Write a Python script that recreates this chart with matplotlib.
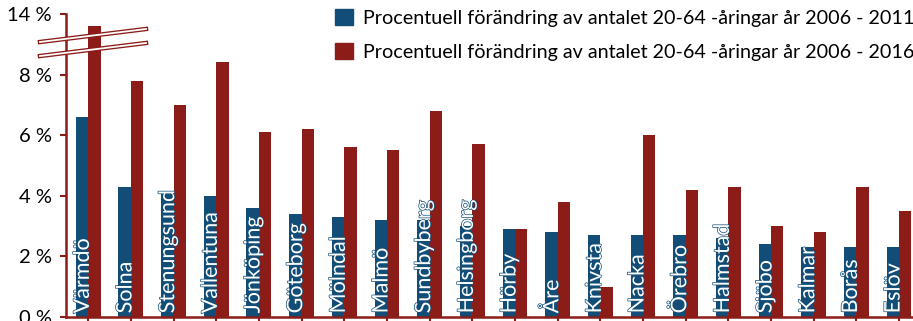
import numpy as np
import matplotlib
matplotlib.use("Agg")
from matplotlib import pyplot as plt
from matplotlib.lines import Line2D
from matplotlib.patches import Patch
import matplotlib.patheffects as pe

plt.rcParams['font.family'] = ['Lato', 'DejaVu Sans']

# data (percent)
kommuner = ["Värmdö", "Solna", "Stenungsund", "Vallentuna", "Jönköping", "Göteborg",
            "Mölndal", "Malmö", "Sundbyberg", "Helsingborg", "Hörby", "Åre", "Knivsta",
            "Nacka", "Örebro", "Halmstad", "Sjöbo", "Kalmar", "Borås", "Eslöv"]
andel_2011 = [6.6, 4.3, 4.1, 4.0, 3.6, 3.4, 3.3, 3.2, 3.2, 3.0,
              2.9, 2.8, 2.7, 2.7, 2.7, 2.6, 2.4, 2.3, 2.3, 2.3]
andel_2016 = [13.6, 7.8, 7.0, 8.4, 6.1, 6.2, 5.6, 5.5, 6.8, 5.7,
              2.9, 3.8, 1.0, 6.0, 4.2, 4.3, 3.0, 2.8, 4.3, 3.5]
yticks = [0, 2, 4, 6, 8, 14]
legend_labels = ["Procentuell förändring av antalet 20-64 -åringar år 2006 - 2011",
                 "Procentuell förändring av antalet 20-64 -åringar år 2006 - 2016"]

# broken axis: everything above 9 % is shown 4 units lower
BREAK = 9.0
SKIP = 4.0
def shown(v):
    return np.where(np.asarray(v) > BREAK, np.asarray(v) - SKIP, np.asarray(v))

blue = "#114d77"
red = "#8b1c18"

fig = plt.figure(figsize=(9.13, 3.21), dpi=100)
ax = fig.add_axes([66/913, 4/321, 1 - 66/913, 303/321])

x = np.arange(len(kommuner))
w = 0.29
ax.bar(x - w/2, shown(andel_2011), w, color=blue)
ax.bar(x + w/2, shown(andel_2016), w, color=red)

for i, name in enumerate(kommuner):
    ax.text(x[i] - w/2 + 0.02, 0.12, name, rotation=90, ha='center', va='bottom',
            color='white', fontsize=15.5,
            path_effects=[pe.Stroke(linewidth=1, foreground=blue), pe.Normal()])

ax.set_xlim(-0.52, 19.33)
ax.set_ylim(0, 10)
ax.set_xticks(x)
ax.set_xticklabels([])
ax.set_yticks(shown(yticks))
ax.set_yticklabels([f"{t} %" for t in yticks], fontsize=14.5)
ax.tick_params(axis='both', color=red, width=1.5, length=4, direction='out')
ax.tick_params(axis='y', pad=6)
for s in ['top', 'right']:
    ax.spines[s].set_visible(False)
for s in ['left', 'bottom']:
    ax.spines[s].set_color(red)
    ax.spines[s].set_linewidth(1.8)

# break marks
for y0, y1 in [(42, 29), (56, 43)]:
    xs = [40/913, 146/913]
    ys = [1 - y0/321, 1 - y1/321]
    fig.add_artist(Line2D(xs, ys, color=red, lw=3.2, transform=fig.transFigure))
    fig.add_artist(Line2D(xs, ys, color='white', lw=1.3, transform=fig.transFigure))

handles = [Patch(color=blue), Patch(color=red)]
fig.legend(handles, legend_labels, loc='upper left', bbox_to_anchor=(335/913, 1 - 9/321),
           frameon=False, fontsize=14.2, handlelength=0.9, handleheight=0.9,
           handletextpad=0.5, labelspacing=0.8, borderpad=0, borderaxespad=0)

fig.savefig("out.png", dpi=100)
